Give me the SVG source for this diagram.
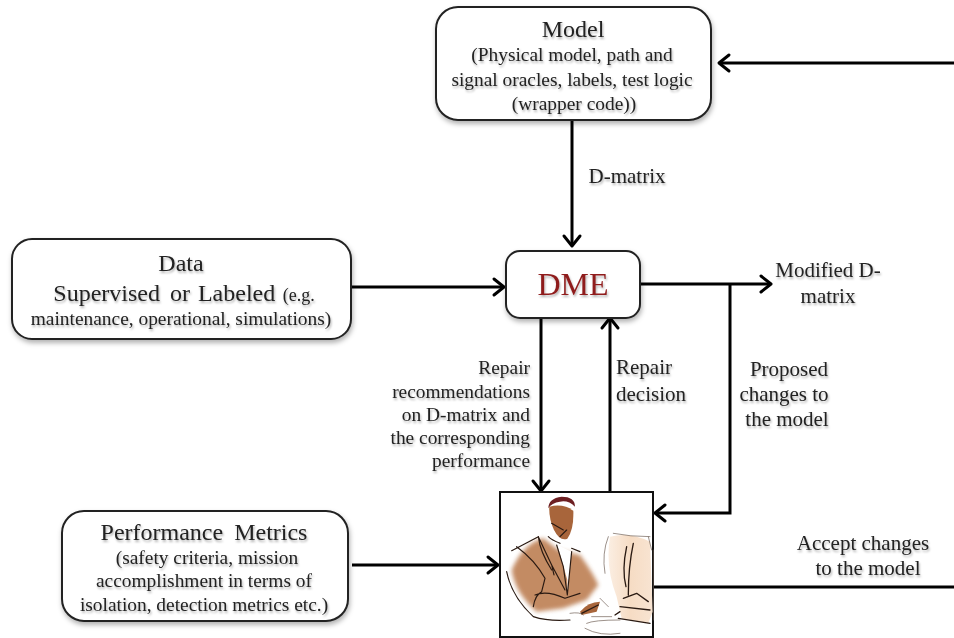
<svg xmlns="http://www.w3.org/2000/svg" width="954" height="638" viewBox="0 0 954 638">
<style>
text{font-family:"Liberation Serif","Times New Roman",serif;fill:#222;text-anchor:middle;font-size:19.4px;filter:url(#ts)}
.t{font-size:24px}
.l{font-size:21px}
.box{fill:#fff;stroke:#222;stroke-width:2;filter:url(#sh)}
.c{fill:none;stroke:#000;stroke-width:3}
.a{fill:none;stroke:#000;stroke-width:3;stroke-linecap:round;stroke-linejoin:round}
.st{fill:none;stroke:#2a1a12;stroke-width:3.5;stroke-linecap:round;stroke-linejoin:round}
.th{fill:none;stroke:#6b5a50;stroke-width:2;stroke-linecap:round}
</style>
<defs>
<filter id="sh" x="-5%" y="-10%" width="110%" height="125%"><feDropShadow dx="1" dy="3" stdDeviation="2.5" flood-color="#000" flood-opacity=".3"/></filter>
<filter id="ts" x="-5%" y="-20%" width="110%" height="150%"><feGaussianBlur stdDeviation=".25" result="b"/><feDropShadow in="b" dx="1" dy="2" stdDeviation="1.2" flood-color="#000" flood-opacity=".3"/></filter>
<filter id="bl" x="-20%" y="-20%" width="140%" height="140%"><feGaussianBlur stdDeviation="7"/></filter>
<filter id="bs" x="-20%" y="-20%" width="140%" height="140%"><feGaussianBlur stdDeviation="2"/></filter>
<linearGradient id="mon" x1="0" x2="1"><stop offset="0" stop-color="#fbeee2"/><stop offset=".5" stop-color="#f6dcc4"/><stop offset="1" stop-color="#f8e4d2"/></linearGradient>
</defs>
<g id="connectors">
<path class="c" d="M954 63H720"/><path class="a" d="M729 55l-10 8 10 8"/>
<path class="c" d="M572 120V245"/><path class="a" d="M564 236l8 10 8-10"/>
<path class="c" d="M352 287H503"/><path class="a" d="M494 279l10 8-10 8"/>
<path class="c" d="M640 284H770"/><path class="a" d="M761 276l10 8-10 8"/>
<path class="c" d="M541 319V490"/><path class="a" d="M533 481l8 10 8-10"/>
<path class="c" d="M610 491V319"/><path class="a" d="M602 328l8-10 8 10"/>
<path class="c" d="M730 284V513H656"/><path class="a" d="M665 505l-10 8 10 8"/>
<path class="c" d="M352 565H497"/><path class="a" d="M488 557l10 8-10 8"/>
<path class="c" d="M654 587H954"/>
</g>
<g id="model"><rect class="box" x="436" y="7" width="275" height="113" rx="22"/>
<text class="t" x="573" y="37">Model</text>
<text x="572" y="61">(Physical model, path and</text>
<text x="572" y="86">signal oracles, labels, test logic</text>
<text x="574" y="110">(wrapper code))</text></g>
<g id="data"><rect class="box" x="12" y="239" width="339" height="100" rx="20"/>
<text class="t" x="181" y="271">Data</text>
<text class="t" x="184" y="301">Supervised<tspan dx="4"> or</tspan><tspan dx="2"> Labeled</tspan><tspan dx="3" style="font-size:18px"> (e.g.</tspan></text>
<text x="181" y="325">maintenance, operational, simulations)</text></g>
<g id="dme"><rect class="box" x="506" y="251" width="134" height="67" rx="14"/>
<text x="573" y="295" style="font-size:32px;fill:#8f1d1d">DME</text></g>
<g id="metrics"><rect class="box" x="62" y="511" width="286" height="110" rx="22"/>
<text class="t" x="204" y="540">Performance<tspan dx="5"> Metrics</tspan></text>
<text x="207" y="564">(safety criteria, mission</text>
<text x="204" y="587">accomplishment in terms of</text>
<text x="204" y="611">isolation, detection metrics etc.)</text></g>
<g id="operator">
<rect x="500" y="492" width="153" height="145" fill="#fff" stroke="#111" stroke-width="2"/>
<g transform="translate(480 480) scale(.3333)">
<path d="M390 170Q450 155 510 185L518 395L505 430L425 415L410 350Q375 260 390 170Z" fill="url(#mon)" filter="url(#bs)"/>
<path d="M95 270Q130 190 190 175L235 210L300 225Q340 280 355 315L320 360L250 385L170 395Q105 340 95 270Z" fill="#bd7f52" opacity=".9" filter="url(#bl)"/>
<path d="M208 80Q250 70 280 92Q282 150 262 176Q240 185 222 150Q206 115 208 80Z" fill="#a8653a" filter="url(#bs)"/>
<path d="M300 395Q325 365 360 365L350 395L305 405Z" fill="#a8653a" filter="url(#bs)"/>
<path d="M205 85Q205 55 245 50Q285 50 285 80Q265 60 240 65Q215 68 205 85Z" fill="#6d1f22"/>
<path d="M232 195L262 300L262 345L275 215Z" fill="#fff"/>
<path class="st" d="M95 212L175 170M175 170L215 255L222 285M175 170Q180 215 215 270M110 200Q165 240 195 295L185 335Q165 345 160 380M80 275Q95 350 160 410Q205 425 270 420M165 345Q200 330 255 355L300 340M230 195L250 260L262 345M262 345L275 215M275 205L300 215M215 255L255 330M205 170Q215 180 240 190M240 170L260 150M215 130L250 150"/>
<path class="st" style="stroke-width:4" d="M305 400L355 375M405 405L420 395M440 200Q425 270 438 320M460 190Q445 260 445 345M430 355L470 340L505 365M420 380L510 390M415 415L510 430"/>
<path class="th" d="M375 280Q365 220 385 170M400 160Q450 170 510 170M505 170L515 210M360 355L385 380M335 410H395M320 430Q340 420 420 420M315 445Q360 470 420 460M520 210V420M270 400Q300 395 310 405"/>
</g>
</g>
<g id="labels">
<text class="l" x="627" y="183">D-matrix</text>
<text class="l" x="828" y="277">Modified D-</text>
<text class="l" x="828" y="303">matrix</text>
<text x="530" y="374" style="text-anchor:end">Repair</text>
<text x="530" y="398" style="text-anchor:end">recommendations</text>
<text x="530" y="421" style="text-anchor:end">on D-matrix and</text>
<text x="530" y="444" style="text-anchor:end">the corresponding</text>
<text x="530" y="467" style="text-anchor:end">performance</text>
<text class="l" x="616" y="374" style="text-anchor:start">Repair</text>
<text class="l" x="616" y="401" style="text-anchor:start">decision</text>
<text class="l" x="789" y="376">Proposed</text>
<text class="l" x="784" y="401">changes to</text>
<text class="l" x="787" y="426">the model</text>
<text class="l" x="863" y="550">Accept changes</text>
<text class="l" x="868" y="575">to the model</text>
</g>
</svg>
